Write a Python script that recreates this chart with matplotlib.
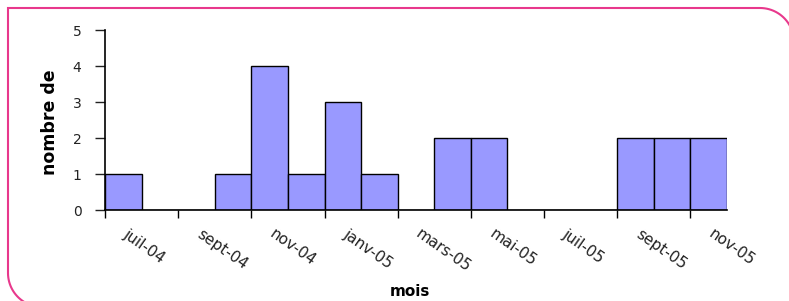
import numpy as np
import matplotlib
matplotlib.use("Agg")
import matplotlib.pyplot as plt
import matplotlib.transforms as mtransforms
from matplotlib.path import Path
from matplotlib.patches import PathPatch

# monthly counts, juil-04 .. nov-05
months = ["juil-04", "août-04", "sept-04", "oct-04", "nov-04", "déc-04",
          "janv-05", "févr-05", "mars-05", "avr-05", "mai-05", "juin-05",
          "juil-05", "août-05", "sept-05", "oct-05", "nov-05"]
counts = [1, 0, 0, 1, 4, 1, 3, 1, 0, 2, 2, 0, 0, 0, 2, 2, 2]
shown_labels = months[::2]

W, H = 789, 301
fig = plt.figure(figsize=(W / 100, H / 100), dpi=100)
ax = fig.add_axes([105 / W, 1 - 210 / H, (727 - 105) / W, (210 - 30) / H])

x = np.arange(len(months))
ax.bar(x, counts, width=1.0, color="#9999ff", edgecolor="black", linewidth=1.0)

ax.set_xlim(-0.5, len(months) - 0.5)
ax.set_ylim(0, 5)
ax.set_yticks(range(6))
ax.tick_params(axis="y", length=7, width=1, labelsize=10, pad=10, colors="#222222")

# ticks on category boundaries, labels at every other category
ax.set_xticks(np.arange(-0.5, len(months), 2))
ax.set_xticklabels([])
ax.tick_params(axis="x", which="major", length=6, width=1)
ax.set_xticks(x[::2], minor=True)
ax.set_xticklabels(shown_labels, minor=True, rotation=-35, ha="left", va="top",
                   rotation_mode="anchor", fontsize=11, color="#222222")
ax.tick_params(axis="x", which="minor", length=0, pad=12)
shift = mtransforms.ScaledTranslation(6 / 100, 0, fig.dpi_scale_trans)
for lab in ax.get_xticklabels(minor=True):
    lab.set_transform(lab.get_transform() + shift)

for s in ["top", "right"]:
    ax.spines[s].set_visible(False)
for s in ["left", "bottom"]:
    ax.spines[s].set_linewidth(1.2)

fig.text(410 / W, 1 - 292 / H, "mois", ha="center", va="center",
         fontsize=11, fontweight="bold")
fig.text(50 / W, 1 - 122 / H, "nombre de", ha="center", va="center",
         rotation=90, fontsize=12.5, fontweight="bold")

# pink frame: square top-left corner, rounded top-right and bottom-left
r = 34
pts = []
for a in np.linspace(0, np.pi / 2, 24):
    pts.append((760 + r * np.sin(a), 8 + r - r * np.cos(a)))
pts = pts[::-1]
pts += [(8, 8), (8, 273)]
for a in np.linspace(0, np.pi / 2, 24):
    pts.append((8 + r - r * np.cos(a), 273 + r * np.sin(a)))
fpts = [(px / W, 1 - py / H) for px, py in pts]
fig.add_artist(PathPatch(Path(fpts), transform=fig.transFigure, fill=False,
                         edgecolor="#e8388c", linewidth=1.5, clip_on=False))

fig.savefig("out.png", dpi=100)
